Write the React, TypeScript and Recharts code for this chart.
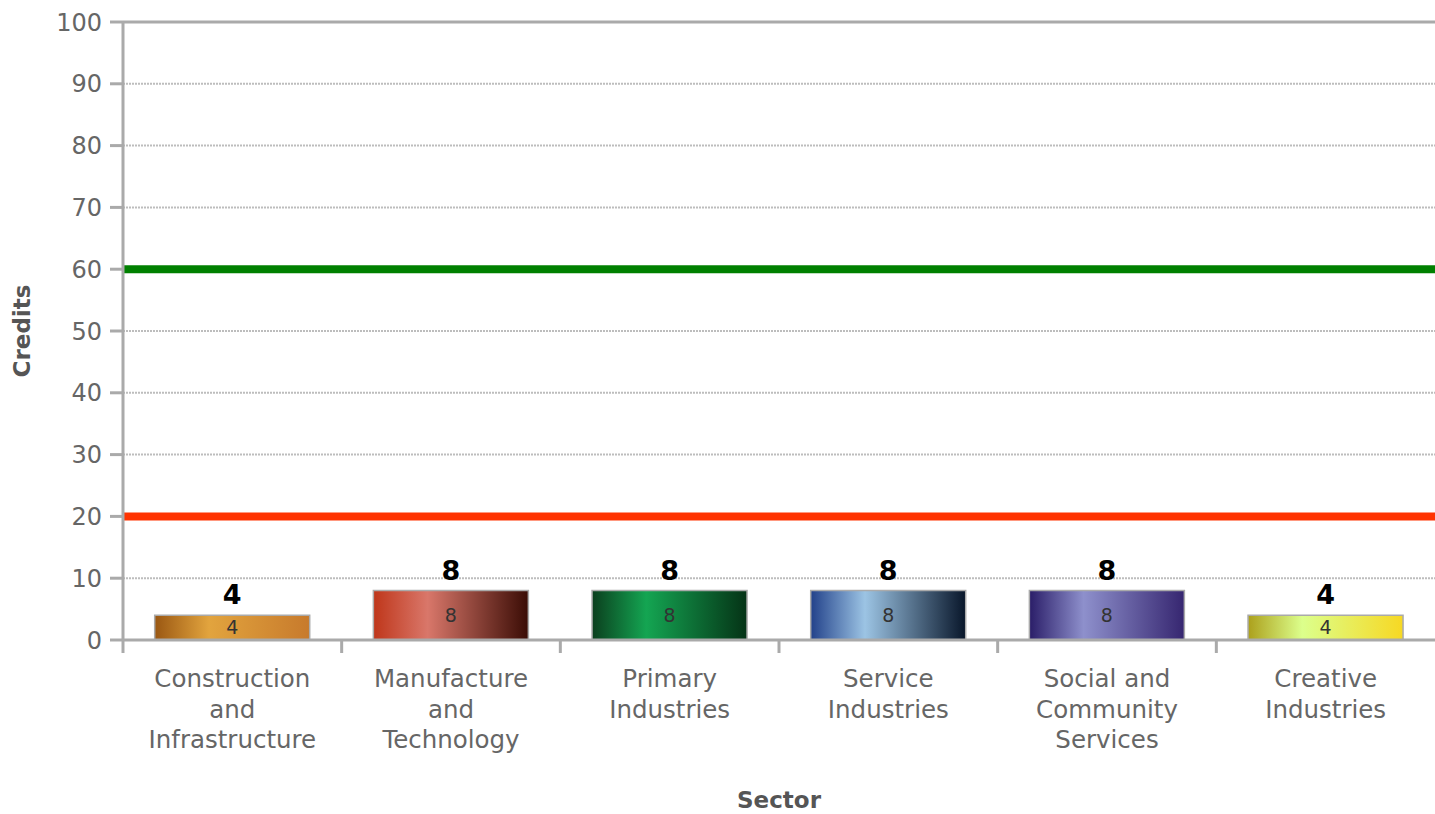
import {
  BarChart,
  Bar,
  XAxis,
  YAxis,
  CartesianGrid,
  ReferenceLine,
  LabelList,
  Cell,
  Label,
} from "recharts";

// sector names, "\n" marks the line breaks used on the axis
const sectors = [
  "Construction\nand\nInfrastructure",
  "Manufacture\nand\nTechnology",
  "Primary\nIndustries",
  "Service\nIndustries",
  "Social and\nCommunity\nServices",
  "Creative\nIndustries",
];
const credits = [4, 8, 8, 8, 8, 4];
const yTicks = [0, 10, 20, 30, 40, 50, 60, 70, 80, 90, 100];
const upperTarget = 60;
const lowerTarget = 20;

// left / middle highlight / right stops of each bar's gradient
const gradients = [
  ["#9a5712", "#e2a43e", "#c77a2c"],
  ["#bf361a", "#d9776a", "#3a0c05"],
  ["#0b3f1e", "#14a552", "#053316"],
  ["#22418a", "#9cc4e4", "#08162a"],
  ["#2a1d68", "#8e90cc", "#362670"],
  ["#aca01c", "#dcff8c", "#f7d823"],
];

const W = 1435;
const H = 814;
const LEFT = 123;
const BAND = (W - LEFT) / sectors.length;

const data = sectors.map((s, i) => ({ sector: s, credits: credits[i] }));

const FONT = "Verdana, 'DejaVu Sans', sans-serif";

function SectorTick({ x, y, payload }: any) {
  const lines = String(payload.value).split("\n");
  const edge = x - BAND / 2;
  return (
    <g>
      <line x1={edge} x2={edge} y1={y} y2={y + 13} stroke="#aaa" strokeWidth={3} />
      <text textAnchor="middle" fill="#666" fontSize={24.5} fontFamily={FONT}>
        {lines.map((l, i) => (
          <tspan key={i} x={x} y={y + 47 + i * 30.5}>
            {l}
          </tspan>
        ))}
      </text>
    </g>
  );
}

export default function App() {
  return (
    <div style={{ position: "absolute", left: 0, top: 0 }}>
      <BarChart
        width={W}
        height={H}
        data={data}
        margin={{ top: 22, right: 0, left: 0, bottom: 0 }}
        barCategoryGap="14.5%"
      >
        <defs>
          {gradients.map((g, i) => (
            <linearGradient key={i} id={`bar${i}`} x1="0" y1="0" x2="1" y2="0">
              <stop offset="0%" stopColor={g[0]} />
              <stop offset="35%" stopColor={g[1]} />
              <stop offset="100%" stopColor={g[2]} />
            </linearGradient>
          ))}
        </defs>
        <CartesianGrid
          vertical={false}
          stroke="#bdbdbd"
          strokeWidth={2}
          strokeDasharray="2 1"
        />
        <XAxis
          dataKey="sector"
          interval={0}
          height={174}
          tickSize={0}
          tickMargin={0}
          tickLine={false}
          axisLine={{ stroke: "#aaa", strokeWidth: 3 }}
          tick={<SectorTick />}
        >
          <Label
            value="Sector"
            position="insideBottom"
            offset={6}
            fill="#555"
            fontSize={23}
            fontWeight="bold"
            fontFamily={FONT}
          />
        </XAxis>
        <YAxis
          type="number"
          domain={[0, 100]}
          ticks={yTicks}
          interval={0}
          width={LEFT}
          tickSize={13}
          tickMargin={8}
          tickLine={{ stroke: "#aaa", strokeWidth: 3 }}
          axisLine={{ stroke: "#aaa", strokeWidth: 3 }}
          tick={{ fill: "#666", fontSize: 24, fontFamily: FONT }}
        >
          <Label
            value="Credits"
            angle={-90}
            position="insideLeft"
            offset={22}
            fill="#555"
            fontSize={23}
            fontWeight="bold"
            fontFamily={FONT}
            style={{ textAnchor: "middle" }}
          />
        </YAxis>
        <ReferenceLine y={100} stroke="#aaa" strokeWidth={3} />
        <ReferenceLine y={upperTarget} stroke="#008000" strokeWidth={8} />
        <ReferenceLine y={lowerTarget} stroke="#ff3300" strokeWidth={8} />
        <Bar dataKey="credits" isAnimationActive={false} stroke="#aaa" strokeWidth={1.5}>
          {data.map((_, i) => (
            <Cell key={i} fill={`url(#bar${i})`} />
          ))}
          <LabelList
            dataKey="credits"
            position="top"
            offset={11}
            fill="#000"
            fontSize={27}
            fontWeight="bold"
            fontFamily={FONT}
          />
          <LabelList
            dataKey="credits"
            position="center"
            fill="#333"
            fontSize={19}
            fontFamily={FONT}
          />
        </Bar>
      </BarChart>
    </div>
  );
}
